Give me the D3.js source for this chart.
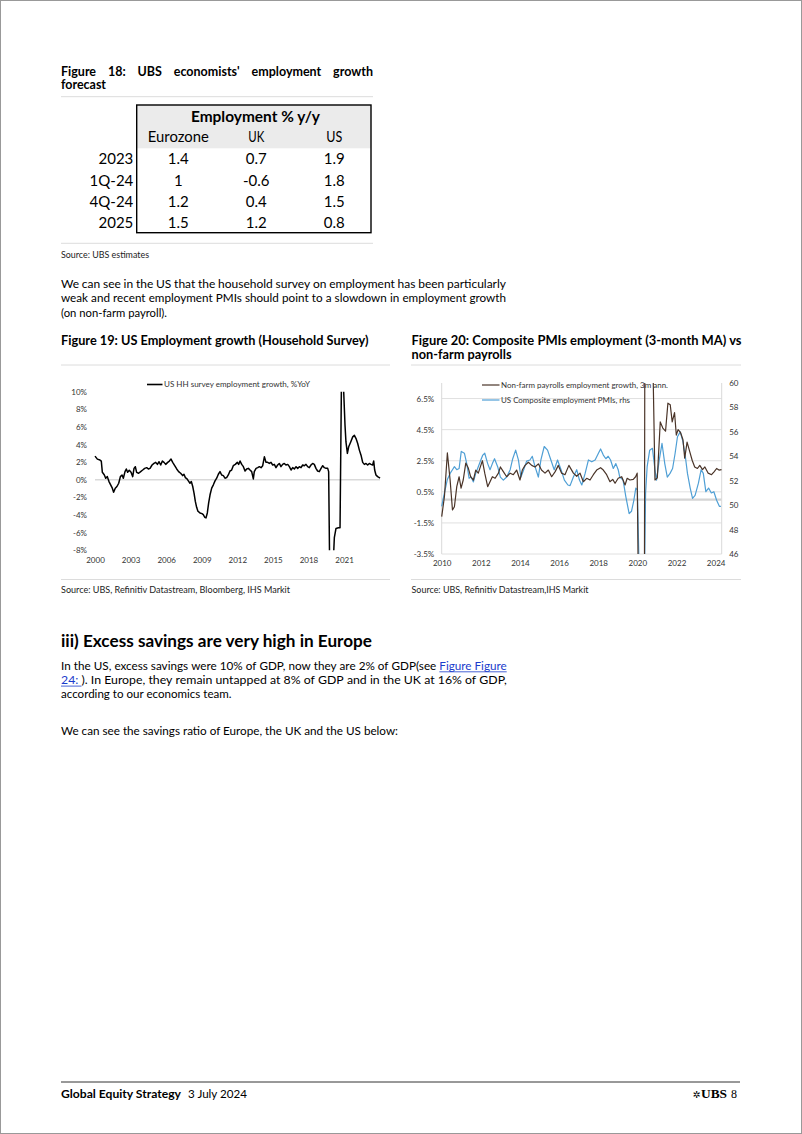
<!DOCTYPE html>
<html><head><meta charset="utf-8">
<script src="https://cdn.jsdelivr.net/npm/d3@7"></script>
<style>html,body{margin:0;padding:0;background:#fff;}svg{display:block;}</style>
</head><body>
<svg id="page" width="802" height="1134"></svg>
<script>
// ---------------- DATA ----------------
const tableRows = ["2023", "1Q-24", "4Q-24", "2025"];
const tableCols = ["Eurozone", "UK", "US"];
const eurozoneEmp = [1.4, 1, 1.2, 1.5];
const ukEmp = [0.7, -0.6, 0.4, 1.2];
const usEmp = [1.9, 1.8, 1.5, 0.8];

// Figure 19: US HH survey employment growth, %YoY
const hhYears = [2000.0,2000.2,2000.42,2000.53,2000.62,2000.79,2000.9,2001.04,2001.18,2001.32,2001.46,2001.57,2001.71,2001.85,2002.0,2002.14,2002.28,2002.39,2002.53,2002.64,2002.75,2002.89,2003.04,2003.18,2003.29,2003.4,2003.51,2003.68,2003.85,2004.02,2004.19,2004.36,2004.5,2004.64,2004.81,2004.97,2005.12,2005.26,2005.4,2005.54,2005.68,2005.82,2005.96,2006.13,2006.27,2006.41,2006.55,2006.72,2006.89,2007.05,2007.22,2007.39,2007.5,2007.62,2007.76,2007.87,2008.01,2008.12,2008.24,2008.35,2008.46,2008.57,2008.68,2008.85,2009.02,2009.13,2009.25,2009.36,2009.47,2009.58,2009.7,2009.84,2009.98,2010.12,2010.26,2010.4,2010.54,2010.68,2010.82,2010.96,2011.1,2011.24,2011.38,2011.52,2011.66,2011.83,2012.0,2012.11,2012.23,2012.37,2012.51,2012.65,2012.79,2012.93,2013.07,2013.21,2013.35,2013.43,2013.58,2013.72,2013.86,2014.0,2014.14,2014.28,2014.42,2014.56,2014.7,2014.84,2014.98,2015.12,2015.26,2015.4,2015.54,2015.68,2015.82,2015.96,2016.1,2016.25,2016.39,2016.53,2016.67,2016.81,2016.95,2017.09,2017.23,2017.37,2017.51,2017.65,2017.79,2017.93,2018.07,2018.21,2018.35,2018.49,2018.63,2018.77,2018.91,2019.06,2019.2,2019.34,2019.48,2019.62,2019.7,2019.81,2019.95,2020.1,2020.18,2020.32,2020.52,2020.66,2020.8,2020.94,2021.08,2021.16,2021.28,2021.39,2021.56,2021.73,2021.87,2022.01,2022.15,2022.29,2022.43,2022.57,2022.71,2022.85,2022.99,2023.13,2023.27,2023.41,2023.5,2023.58,2023.69,2023.83,2023.97,2024.03];
const hhGrowth = [2.69,2.35,2.24,2.13,0.85,0.55,0.18,0.36,-0.2,-0.57,-0.95,-1.4,-0.95,-0.76,-0.39,0.36,0.55,0.18,0.93,1.23,0.85,1.08,0.85,0.36,1.3,1.49,0.85,0.74,0.93,1.11,1.3,1.38,1.23,1.3,1.68,1.86,1.98,1.75,2.05,1.68,2.13,1.98,1.75,1.98,2.13,2.35,1.98,1.6,1.23,0.93,0.74,0.48,0.63,0.25,0.1,-0.12,-0.39,-0.2,-0.76,-1.51,-2.45,-3.12,-3.57,-3.76,-3.84,-3.95,-4.25,-4.32,-3.76,-2.64,-1.7,-0.95,-0.57,-0.12,0.18,0.63,0.93,0.55,0.48,0.18,0.25,0.55,1.0,1.11,1.6,1.75,1.98,1.75,2.13,1.75,1.49,1.0,1.23,1.3,1.11,0.93,0.1,0.93,1.3,1.38,1.49,1.38,1.6,2.61,1.98,1.98,1.86,1.98,1.68,1.75,1.38,1.68,1.86,1.49,1.75,1.86,1.68,1.75,1.49,1.11,1.38,1.23,1.49,1.3,1.49,1.38,1.68,1.6,1.75,1.49,1.38,1.68,1.86,1.75,1.3,1.0,0.93,1.3,1.6,1.38,1.3,1.3,0.93,-13,-12,-9,-6.57,-5.52,-5.45,-5.45,14,11,6.2,4.3,3.0,3.75,4.3,4.87,5.05,4.68,4.12,3.37,2.8,1.98,1.75,1.86,1.68,1.86,1.75,1.68,2.13,1.11,0.55,0.36,0.25,0.18];
const hhTicksY = [-8, -6, -4, -2, 0, 2, 4, 6, 8, 10];
const hhTicksX = [2000, 2003, 2006, 2009, 2012, 2015, 2018, 2021];

// Figure 20: Non-farm payrolls employment growth, 3m ann. (lhs, %)
const nfpYears = [2010.0,2010.14,2010.29,2010.43,2010.55,2010.65,2010.77,2010.89,2010.99,2011.1,2011.23,2011.36,2011.48,2011.62,2011.74,2011.87,2012.0,2012.08,2012.2,2012.35,2012.47,2012.59,2012.73,2012.9,2013.0,2013.15,2013.32,2013.5,2013.66,2013.83,2014.0,2014.12,2014.26,2014.43,2014.6,2014.77,2014.94,2015.1,2015.28,2015.45,2015.62,2015.8,2015.96,2016.13,2016.3,2016.5,2016.73,2016.9,2017.07,2017.24,2017.41,2017.58,2017.75,2017.92,2018.12,2018.26,2018.43,2018.6,2018.74,2018.86,2019.02,2019.2,2019.37,2019.48,2019.62,2019.79,2019.91,2019.99,2020.07,2020.2,2020.33,2020.4,2020.55,2020.75,2020.9,2021.02,2021.17,2021.3,2021.44,2021.56,2021.68,2021.78,2021.9,2021.99,2022.08,2022.21,2022.33,2022.42,2022.54,2022.68,2022.8,2022.93,2023.07,2023.19,2023.33,2023.45,2023.62,2023.79,2023.93,2024.05,2024.17,2024.3];
const nfpGrowth = [-1.1,0.2,3.0,1.26,-0.67,-0.46,0.83,1.47,0.74,1.26,2.35,2.03,1.47,1.26,1.9,1.7,2.2,2.5,1.7,0.83,1.15,1.47,1.37,1.7,2.1,1.8,1.47,1.7,1.6,1.9,1.26,1.9,2.2,2.4,2.2,2.1,2.3,1.9,1.7,1.9,1.47,1.8,2.2,1.7,1.6,2.2,1.7,1.5,1.7,1.15,1.37,1.26,1.6,1.9,2.05,1.9,1.6,1.15,1.3,1.05,1.37,1.47,0.94,1.37,1.26,1.3,1.47,1.7,-8,-40,-30,25,40,12,1.26,1.4,5.0,4.6,4.4,6.2,6.1,5.0,5.6,4.15,4.5,4.3,3.85,2.67,3.7,3.07,2.53,2.1,2.0,2.2,1.93,2.1,1.7,1.6,1.8,2.0,1.9,1.93];
// US Composite employment PMIs (rhs)
const pmiYears = [2010.0,2010.14,2010.29,2010.43,2010.55,2010.65,2010.77,2010.89,2011.0,2011.16,2011.28,2011.4,2011.5,2011.62,2011.74,2011.87,2012.0,2012.1,2012.2,2012.35,2012.47,2012.59,2012.7,2012.86,2013.0,2013.15,2013.32,2013.5,2013.63,2013.78,2013.92,2014.05,2014.19,2014.34,2014.51,2014.63,2014.77,2014.94,2015.07,2015.24,2015.41,2015.58,2015.75,2015.92,2016.1,2016.27,2016.45,2016.56,2016.73,2016.9,2017.04,2017.16,2017.33,2017.5,2017.67,2017.84,2018.01,2018.12,2018.26,2018.39,2018.51,2018.63,2018.77,2018.9,2019.02,2019.1,2019.27,2019.41,2019.58,2019.7,2019.82,2019.92,2020.0,2020.1,2020.2,2020.33,2020.42,2020.5,2020.63,2020.77,2020.9,2020.98,2021.12,2021.26,2021.4,2021.53,2021.67,2021.8,2021.93,2022.05,2022.19,2022.33,2022.45,2022.56,2022.7,2022.82,2022.95,2023.12,2023.26,2023.37,2023.5,2023.64,2023.78,2023.91,2024.05,2024.19,2024.27];
const pmiValues = [49.9,51.0,52.1,52.6,52.9,53.15,52.9,53.0,54.4,54.25,53.4,52.2,52.3,51.9,52.6,53.15,53.7,54.1,54.25,53.4,52.9,53.4,53.8,53.15,52.3,52.05,52.3,52.9,53.8,54.5,53.7,52.3,52.9,53.6,53.7,54.0,53.15,52.3,53.7,54.8,54.5,53.7,52.9,53.7,52.9,52.05,51.65,51.6,52.3,52.9,52.05,51.65,52.6,53.7,53.55,53.7,54.25,54.6,54.1,53.8,54.0,53.7,53.0,53.4,52.9,52.3,52.05,50.7,49.3,49.5,50.4,51.4,51.25,44,30,40,51,53.15,54.5,54.65,52.9,52.05,53.7,55.05,53.4,52.3,52.6,53.0,54.25,55.6,56.0,55.2,54.0,52.6,51.4,50.55,50.8,51.8,52.9,52.6,51.1,51.4,51.0,51.1,50.4,49.9,49.9];
const f20TicksLeft = [-3.5, -1.5, 0.5, 2.5, 4.5, 6.5];
const f20TicksRight = [46, 48, 50, 52, 54, 56, 58, 60];
const f20TicksX = [2010, 2012, 2014, 2016, 2018, 2020, 2022, 2024];

// ---------------- HELPERS ----------------
const svg = d3.select('#page');
const FONT = "Lato, 'Open Sans', sans-serif";
const LINK = "#1a3ccc";
const SEP = "#dcdcdc";
const TICK_FS = 8;

function line(x, y, str, o) {
  const t = svg.append('text').attr('x', x).attr('y', y)
    .attr('font-family', o.family || FONT).attr('font-size', o.size)
    .attr('font-weight', o.weight || 'normal').attr('fill', o.fill || '#000')
    .attr('text-anchor', o.anchor || 'start').text(str);
  if (o.width) t.attr('textLength', o.width).attr('lengthAdjust', 'spacingAndGlyphs');
  return t;
}
function hr(x1, x2, y, color, w) {
  svg.append('line').attr('x1', x1).attr('x2', x2).attr('y1', y).attr('y2', y)
    .attr('stroke', color || SEP).attr('stroke-width', w || 1);
}
function justify(x0, x1, y, words, o) {
  const g = svg.append('g');
  let size = o.size, els, widths, gap;
  for (let k = 0; k < 10; k++) {
    g.selectAll('*').remove();
    els = words.map(w => {
      const segs = typeof w === 'string' ? [{t: w}] : w;
      const t = g.append('text').attr('y', y).attr('font-family', FONT)
        .attr('font-size', size).attr('font-weight', o.weight || 'normal')
        .attr('fill', '#000').style('white-space', 'pre');
      segs.forEach(s => {
        const ts = t.append('tspan').text(s.t);
        if (s.link) ts.attr('fill', LINK).classed('lnk', true);
      });
      return t;
    });
    widths = els.map(e => e.node().getComputedTextLength());
    gap = (x1 - x0 - d3.sum(widths)) / (els.length - 1);
    if (gap >= size * 0.2) break;
    size *= 0.975;
  }
  let x = x0;
  els.forEach((e, i) => {
    e.attr('x', x);
    e.selectAll('tspan.lnk').each(function () {
      const sx = this.getStartPositionOfChar(0).x;
      const w = this.getComputedTextLength();
      g.append('line').attr('x1', sx).attr('x2', sx + w).attr('y1', y + 1.8).attr('y2', y + 1.8)
        .attr('stroke', LINK).attr('stroke-width', 0.8);
    });
    x += widths[i] + gap;
  });
}
const split = s => s.split(' ');

// page border
svg.append('rect').attr('x', 0.5).attr('y', 0.5).attr('width', 801).attr('height', 1133)
  .attr('fill', 'none').attr('stroke', '#999');

// ---------------- FIGURE 18 (table) ----------------
justify(61, 373, 75.5, split("Figure 18: UBS economists' employment growth"), {size: 12.5, weight: 'bold'});
line(61, 89, "forecast", {size: 12.5, weight: 'bold', width: 45});
hr(61, 373, 96.7);

const tX0 = 136.7, tX1 = 371, tY0 = 105, tY1 = 232.7;
svg.append('rect').attr('x', tX0).attr('y', tY0).attr('width', tX1 - tX0).attr('height', 148.3 - tY0).attr('fill', '#ebebeb');
svg.append('rect').attr('x', tX0).attr('y', tY0).attr('width', tX1 - tX0).attr('height', tY1 - tY0)
  .attr('fill', 'none').attr('stroke', '#000').attr('stroke-width', 1.4);
line(255.5, 121.7, "Employment % y/y", {size: 16, weight: 'bold', anchor: 'middle', width: 129});
const colX = d3.scalePoint().domain(tableCols).range([178.3, 334.3]);
const colW = {"Eurozone": 61, "UK": 16, "US": 16};
tableCols.forEach(c => line(colX(c), 142.3, c, {size: 14.5, anchor: 'middle', width: colW[c]}));
const rowY = d3.scalePoint().domain(tableRows).range([164.3, 228.3]);
const colVals = [eurozoneEmp, ukEmp, usEmp];
tableRows.forEach((r, i) => {
  line(133.3, rowY(r), r, {size: 15, anchor: 'end'});
  tableCols.forEach((c, j) => line(colX(c), rowY(r), String(colVals[j][i]), {size: 15, anchor: 'middle'}));
});
hr(61, 373, 243.3);
line(61, 257.7, "Source: UBS estimates", {size: 9.5, fill: '#222', width: 88});

// ---------------- paragraph 1 ----------------
justify(61, 506, 288, split("We can see in the US that the household survey on employment has been particularly"), {size: 12.3});
justify(61, 506, 302.3, split("weak and recent employment PMIs should point to a slowdown in employment growth"), {size: 12.3});
line(61, 316.6, "(on non-farm payroll).", {size: 12.3, width: 106});

// ---------------- FIGURE 19 ----------------
line(61, 345, "Figure 19: US Employment growth (Household Survey)", {size: 12.5, weight: 'bold', width: 307.5});
hr(61, 390, 365);
hr(61, 390, 579.5);
line(61, 593.3, "Source: UBS, Refinitiv Datastream, Bloomberg, IHS Markit", {size: 9.5, fill: '#222', width: 229});

const x19 = d3.scaleLinear().domain([2000, 2024.03]).range([95, 380]);
const y19 = d3.scaleLinear().domain([-8, 10]).range([550.3, 391.7]);
const g19 = svg.append('g');
g19.append('clipPath').attr('id', 'c19').append('rect')
  .attr('x', 90).attr('y', y19(10)).attr('width', 295).attr('height', y19(-8) - y19(10));
g19.append('line').attr('x1', x19(2000)).attr('x2', x19(2024.03)).attr('y1', y19(0)).attr('y2', y19(0))
  .attr('stroke', '#d9d9d9').attr('stroke-width', 1.4);
g19.append('g').attr('transform', 'translate(89,0)')
  .call(d3.axisLeft(y19).tickValues(hhTicksY).tickFormat(d => d + '%').tickSize(0).tickPadding(2))
  .call(g => g.select('.domain').remove())
  .attr('font-family', FONT).attr('font-size', TICK_FS).attr('color', '#333');
g19.append('g').attr('transform', 'translate(0,552.5)')
  .call(d3.axisBottom(x19).tickValues(hhTicksX).tickFormat(d3.format('d')).tickSize(0).tickPadding(5))
  .call(g => g.select('.domain').remove())
  .attr('font-family', FONT).attr('font-size', TICK_FS).attr('color', '#333');
g19.append('path').datum(d3.range(hhYears.length))
  .attr('clip-path', 'url(#c19)')
  .attr('d', d3.line().x(i => x19(hhYears[i])).y(i => y19(hhGrowth[i])))
  .attr('fill', 'none').attr('stroke', '#000').attr('stroke-width', 1.5).attr('stroke-linejoin', 'round');
g19.append('line').attr('x1', 147).attr('x2', 162.5).attr('y1', 384.5).attr('y2', 384.5)
  .attr('stroke', '#000').attr('stroke-width', 1.6);
line(164, 387.3, "US HH survey employment growth, %YoY", {size: 8, fill: '#333', width: 146});

// ---------------- FIGURE 20 ----------------
line(411.5, 345, "Figure 20: Composite PMIs employment (3-month MA) vs", {size: 12.5, weight: 'bold', width: 330});
line(411.5, 358.5, "non-farm payrolls", {size: 12.5, weight: 'bold', width: 100});
hr(411, 741, 365);
hr(411, 741, 579.5);
line(411.5, 593.3, "Source: UBS, Refinitiv Datastream,IHS Markit", {size: 9.5, fill: '#222', width: 177});

const x20 = d3.scaleLinear().domain([2010, 2024.31]).range([441.7, 721.7]);
const yL20 = d3.scaleLinear().domain([-3.5, 7.5]).range([554, 383]);
const yR20 = d3.scaleLinear().domain([46, 60]).range([554, 383]);
const g20 = svg.append('g');
g20.append('clipPath').attr('id', 'c20').append('rect')
  .attr('x', x20(2010) - 2).attr('y', 383).attr('width', x20(2024.31) - x20(2010) + 4).attr('height', 171);
f20TicksLeft.forEach(v => g20.append('line').attr('x1', x20(2010)).attr('x2', x20(2024.31))
  .attr('y1', yL20(v)).attr('y2', yL20(v)).attr('stroke', '#e0e0e0').attr('stroke-width', 1));
g20.append('line').attr('x1', x20(2010)).attr('x2', x20(2024.31)).attr('y1', yL20(0)).attr('y2', yL20(0))
  .attr('stroke', '#d4d4d4').attr('stroke-width', 2.2);
[2010, 2024.31].forEach(v => g20.append('line').attr('x1', x20(v)).attr('x2', x20(v))
  .attr('y1', 383).attr('y2', 554).attr('stroke', '#d9d9d9').attr('stroke-width', 1));
g20.append('g').attr('transform', `translate(${x20(2010)},0)`)
  .call(d3.axisLeft(yL20).tickValues(f20TicksLeft).tickFormat(d => d.toFixed(1) + '%').tickSize(0).tickPadding(7.5))
  .call(g => g.select('.domain').remove())
  .attr('font-family', FONT).attr('font-size', TICK_FS).attr('color', '#333');
g20.append('g').attr('transform', `translate(${x20(2024.31)},0)`)
  .call(d3.axisRight(yR20).tickValues(f20TicksRight).tickFormat(d3.format('d')).tickSize(0).tickPadding(7.5))
  .call(g => g.select('.domain').remove())
  .attr('font-family', FONT).attr('font-size', TICK_FS).attr('color', '#333');
g20.append('g').attr('transform', 'translate(0,554)')
  .call(d3.axisBottom(x20).tickValues(f20TicksX).tickFormat(d3.format('d')).tickSize(0).tickPadding(6.3))
  .call(g => g.select('.domain').remove())
  .attr('font-family', FONT).attr('font-size', TICK_FS).attr('color', '#333');

const BLUE = '#4f9fd5', BROWN = '#4a3428';
g20.append('path').datum(d3.range(pmiYears.length)).attr('clip-path', 'url(#c20)')
  .attr('d', d3.line().x(i => x20(pmiYears[i])).y(i => yR20(pmiValues[i])))
  .attr('fill', 'none').attr('stroke', BLUE).attr('stroke-width', 1.2).attr('stroke-linejoin', 'round');
// legend
g20.append('line').attr('x1', 482).attr('x2', 499.5).attr('y1', 385).attr('y2', 385).attr('stroke', BROWN).attr('stroke-width', 1.2);
line(501, 387.8, "Non-farm payrolls employment growth, 3m ann.", {size: 8, fill: '#333', width: 167});
g20.append('line').attr('x1', 482).attr('x2', 499.5).attr('y1', 400).attr('y2', 400).attr('stroke', BLUE).attr('stroke-width', 1.2);
line(501, 402.8, "US Composite employment PMIs, rhs", {size: 8, fill: '#333', width: 129});
g20.append('path').datum(d3.range(nfpYears.length)).attr('clip-path', 'url(#c20)')
  .attr('d', d3.line().x(i => x20(nfpYears[i])).y(i => yL20(nfpGrowth[i])))
  .attr('fill', 'none').attr('stroke', BROWN).attr('stroke-width', 1.2).attr('stroke-linejoin', 'round');

// ---------------- section iii ----------------
line(61, 646.7, "iii) Excess savings are very high in Europe", {size: 17, weight: 'bold', width: 311});
justify(61, 506.7, 670, split("In the US, excess savings were 10% of GDP, now they are 2% of GDP(see").concat([[{t: "Figure Figure", link: true}]]), {size: 12.3});
justify(61, 506.7, 684.3, [[{t: "24: ", link: true}, {t: ")."}]].concat(split("In Europe, they remain untapped at 8% of GDP and in the UK at 16% of GDP,")), {size: 12.3});
line(61, 698.3, "according to our economics team.", {size: 12.3, width: 170.5});
line(61, 735, "We can see the savings ratio of Europe, the UK and the US below:", {size: 12.3, width: 337});

// ---------------- footer ----------------
hr(61, 740, 1082, '#333', 1);
line(61, 1097.5, "Global Equity Strategy", {size: 12, weight: 'bold', width: 120});
line(188, 1097.5, "3 July 2024", {size: 12, width: 59});
line(692.5, 1097.5, "\u2732", {size: 10, family: "'DejaVu Sans', sans-serif", width: 8});
line(701, 1097.5, "UBS", {size: 12, weight: 'bold', family: "'Liberation Serif', serif", width: 26});
line(731, 1097.5, "8", {size: 12, family: "'Liberation Serif', serif"});
</script>
</body></html>
